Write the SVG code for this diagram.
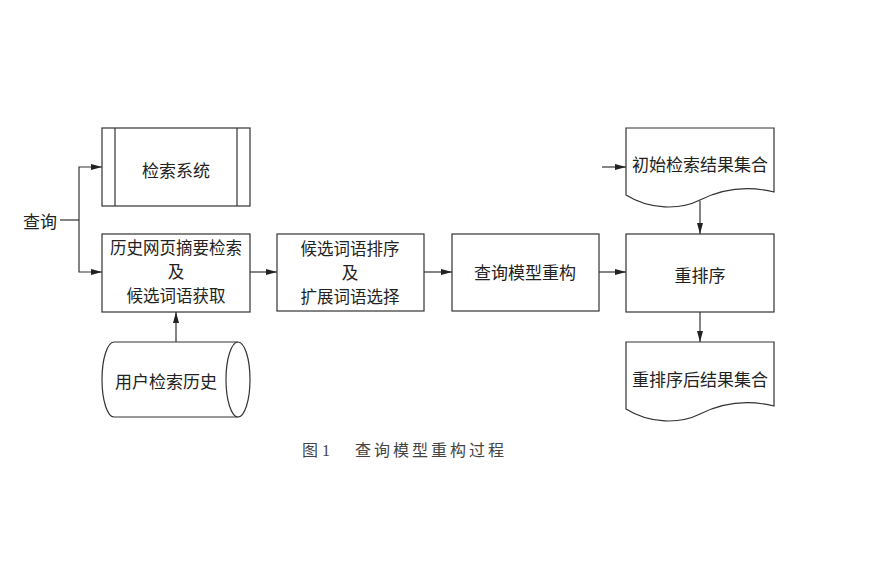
<svg xmlns="http://www.w3.org/2000/svg" width="880" height="587" viewBox="0 0 880 587">
<defs>
<marker id="ah" markerWidth="12" markerHeight="8" refX="11" refY="4" orient="auto" markerUnits="userSpaceOnUse">
<path d="M0,1 L11,4 L0,7 Z" fill="#222"/>
</marker>
<style>
.s{fill:#fff;stroke:#333;stroke-width:1.2}
.t{font-family:"Noto Sans CJK SC","Noto Sans",sans-serif;font-size:17px;fill:#222;text-anchor:middle;dominant-baseline:central}
.m{font-size:16.5px}
.c{stroke:#333;stroke-width:1.2;fill:none}
.a{marker-end:url(#ah)}
</style>
</defs>
<rect width="880" height="587" fill="#fff"/>
<text class="t" x="40" y="220">查询</text>
<g id="search">
<rect class="s" x="102" y="128" width="148" height="78"/>
<line class="c" x1="115" y1="128" x2="115" y2="206"/>
<line class="c" x1="237" y1="128" x2="237" y2="206"/>
<text class="t" x="176" y="169">检索系统</text>
</g>
<g id="history-retrieval">
<rect class="s" x="102" y="234" width="148" height="78"/>
<text class="t m" x="176" y="247">历史网页摘要检索</text>
<text class="t m" x="176" y="271">及</text>
<text class="t m" x="176" y="295">候选词语获取</text>
</g>
<g id="user-history">
<path class="s" d="M238,342 H114 A12,37.5 0 0 0 114,417 H238"/>
<ellipse class="s" cx="238" cy="379.5" rx="12" ry="37.5"/>
<text class="t" x="166" y="380">用户检索历史</text>
</g>
<g id="ranking">
<rect class="s" x="277" y="234" width="147" height="77"/>
<text class="t m" x="350" y="248">候选词语排序</text>
<text class="t m" x="350" y="272">及</text>
<text class="t m" x="350" y="296">扩展词语选择</text>
</g>
<g id="reconstruct">
<rect class="s" x="452" y="234" width="147" height="77"/>
<text class="t" x="525" y="271">查询模型重构</text>
</g>
<g id="initial-results">
<path class="s" d="M626,128 H774 V192 C745,185 720,190 700,200 C680,210 650,210 626,195 Z"/>
<text class="t" x="700" y="163">初始检索结果集合</text>
</g>
<g id="rerank">
<rect class="s" x="626" y="234" width="148" height="78"/>
<text class="t" x="700" y="274">重排序</text>
</g>
<g id="reranked-results">
<path class="s" d="M626,342 H774 V406 C745,399 720,404 700,414 C680,424 650,424 626,409 Z"/>
<text class="t" x="700" y="378">重排序后结果集合</text>
</g>
<g id="connectors">
<polyline class="c" points="60,220 79,220"/>
<polyline class="c a" points="79,220 79,167 102,167"/>
<polyline class="c a" points="79,220 79,272 102,272"/>
<line class="c a" x1="176" y1="342" x2="176" y2="312"/>
<line class="c a" x1="250" y1="272" x2="277" y2="272"/>
<line class="c a" x1="424" y1="272" x2="452" y2="272"/>
<line class="c a" x1="599" y1="272" x2="626" y2="272"/>
<line class="c a" x1="602" y1="167" x2="626" y2="167"/>
<line class="c a" x1="700" y1="201" x2="700" y2="234"/>
<line class="c a" x1="700" y1="312" x2="700" y2="342"/>
</g>
<text x="302" y="456" font-family="'Liberation Serif','Noto Sans CJK SC',serif" font-size="16" fill="#444">图 1</text>
<text x="355" y="456" font-family="'Noto Sans CJK SC',serif" font-size="16" fill="#444" letter-spacing="3">查询模型重构过程</text>
</svg>
